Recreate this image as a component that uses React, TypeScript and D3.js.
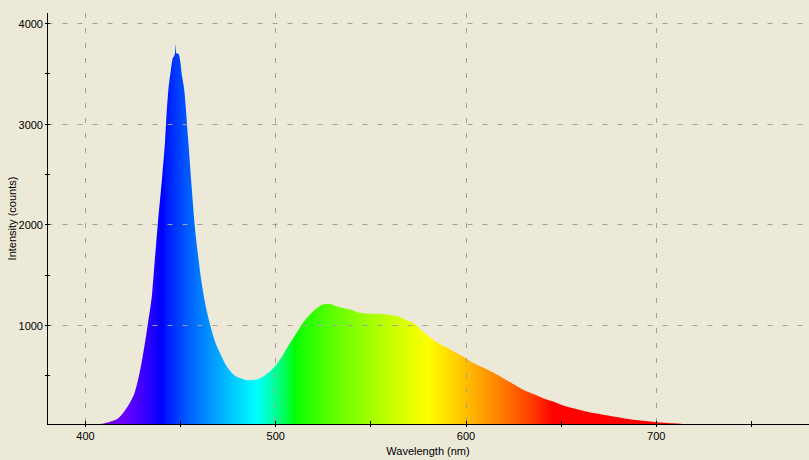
import React from "react";
import * as d3 from "d3";

const wavelengths = [380, 400, 403, 405, 410, 414, 417.2, 421.6, 424, 426, 429.9, 432.7, 435.1, 436.5, 437.9, 440.4, 441.8, 442.3, 443.5, 444.6, 445.6, 447.0, 447.3, 447.6, 448.7, 449.7, 450.5, 451.9, 454, 455.8, 457.5, 459.3, 461, 463.7, 465.4, 468, 470.7, 474.2, 477.7, 481.2, 485.5, 490, 493.4, 497, 500.5, 504, 507.5, 511, 514.5, 518, 521.5, 523.3, 525, 528.5, 530.2, 533.8, 539, 544.3, 549.5, 554.8, 560, 565.3, 568.8, 572.3, 575.8, 581, 586.3, 590.6, 593.3, 599.6, 603.8, 609, 614.3, 619.5, 624.8, 630, 635.3, 640.5, 645.8, 651, 656.3, 661.5, 666.8, 672, 677.3, 682.6, 687.9, 693.1, 700.2, 708, 716, 723, 730, 740, 755, 780];
const intensities = [0, 0, 3, 8, 23, 45, 73, 173, 250, 339, 671, 1004, 1336, 1668, 1984, 2500, 2831, 2998, 3330, 3497, 3629, 3700, 3789, 3700, 3696, 3629, 3500, 3330, 2830, 2363, 1964, 1665, 1420, 1137, 1007, 837, 718, 588, 508, 472, 449, 458, 488, 538, 608, 708, 819, 922, 1025, 1105, 1165, 1190, 1204, 1209, 1196, 1176, 1153, 1120, 1110, 1110, 1097, 1077, 1045, 1015, 960, 877, 808, 768, 738, 671, 622, 576, 526, 470, 412, 356, 312, 272, 239, 199, 172, 146, 123, 107, 90, 73, 57, 47, 33, 22, 13, 7, 3, 1, 0, 0];

const xMajorTicks = [400, 500, 600, 700];
const xMinorTicks = [450, 550, 650, 750];
const yMajorTicks = [1000, 2000, 3000, 4000];
const yMinorTicks = [500, 1500, 2500, 3500];
const xTitle = "Wavelength (nm)";
const yTitle = "Intensity (counts)";

const W = 809;
const H = 460;
const left = 47;
const top = 13;
const axisY = 424;

function wavelengthColor(w: number): string {
  let r = 0, g = 0, b = 0;
  if (w < 440) { r = -(w - 440) / 60; g = 0; b = 1; }
  else if (w < 490) { r = 0; g = (w - 440) / 50; b = 1; }
  else if (w < 510) { r = 0; g = 1; b = -(w - 510) / 20; }
  else if (w < 580) { r = (w - 510) / 70; g = 1; b = 0; }
  else if (w < 645) { r = 1; g = -(w - 645) / 65; b = 0; }
  else { r = 1; g = 0; b = 0; }
  let f = 1;
  if (w < 420) f = 0.3 + 0.7 * (w - 380) / 40;
  else if (w > 700) f = 0.3 + 0.7 * (780 - w) / 80;
  const c = (v: number) => Math.round(255 * Math.pow(Math.max(0, v * f), 0.8));
  return `rgb(${c(r)},${c(g)},${c(b)})`;
}

export default function App() {
  const x = d3.scaleLinear().domain([380, 780]).range([47.5, 808.5]);
  const y = d3.scaleLinear().domain([0, 4000]).range([425.5, 23]);
  const crisp = (v: number) => Math.round(v) + 0.5;
  const pts = wavelengths.map((w, i) => [w, intensities[i]] as [number, number]);
  const area = d3.area<[number, number]>()
    .x(d => x(d[0]))
    .y0(y(0))
    .y1(d => y(d[1]))
    .curve(d3.curveMonotoneX);
  const stops = d3.range(380, 781, 2);
  const font = "'Liberation Sans', Arial, sans-serif";
  const grid = "#a0a0a0";
  return (
    <svg width={W} height={H} style={{ position: "absolute", left: 0, top: 0 }}>
      <defs>
        <linearGradient id="spec" gradientUnits="userSpaceOnUse" x1={x(380)} x2={x(780)} y1={0} y2={0}>
          {stops.map(w => (
            <stop key={w} offset={(w - 380) / 400} stopColor={wavelengthColor(w)} />
          ))}
        </linearGradient>
        <clipPath id="plot">
          <rect x={left + 1} y={top} width={W - left} height={axisY - top} />
        </clipPath>
      </defs>
      <rect x={0} y={0} width={W} height={H} fill="#ECE9D8" />
      <path d={area(pts) || ""} fill="url(#spec)" clipPath="url(#plot)" />
      {yMajorTicks.map(t => (
        <line key={"gy" + t} x1={left + 0.5} x2={W} y1={crisp(y(t))} y2={crisp(y(t))} stroke={grid} strokeDasharray="5 10" />
      ))}
      {xMajorTicks.map(t => (
        <line key={"gx" + t} x1={crisp(x(t) - 0.5)} x2={crisp(x(t) - 0.5)} y1={top} y2={axisY} stroke={grid} strokeDasharray="5 10" />
      ))}
      <line x1={left + 0.5} x2={left + 0.5} y1={top} y2={axisY + 1} stroke="#000" />
      <line x1={left} x2={W} y1={axisY + 0.5} y2={axisY + 0.5} stroke="#000" />
      {[...yMajorTicks, ...yMinorTicks].map(t => (
        <line key={"ty" + t} x1={left - 2} x2={left + 3} y1={crisp(y(t))} y2={crisp(y(t))} stroke="#000" />
      ))}
      {[...xMajorTicks, ...xMinorTicks].map(t => (
        <line key={"tx" + t} x1={crisp(x(t) - 0.5)} x2={crisp(x(t) - 0.5)} y1={axisY - 3} y2={axisY + 3} stroke="#000" />
      ))}
      {yMajorTicks.map(t => (
        <text key={"ly" + t} x={43} y={crisp(y(t)) + 4} textAnchor="end" fontFamily={font} fontSize={11} fill="#000">{t}</text>
      ))}
      {xMajorTicks.map(t => (
        <text key={"lx" + t} x={x(t)} y={439.5} textAnchor="middle" fontFamily={font} fontSize={11} fill="#000">{t}</text>
      ))}
      <text x={(left + W) / 2} y={454.5} textAnchor="middle" fontFamily={font} fontSize={11} fill="#000">{xTitle}</text>
      <text transform={`translate(15.5, ${(top + axisY) / 2}) rotate(-90)`} textAnchor="middle" fontFamily={font} fontSize={11} fill="#000">{yTitle}</text>
    </svg>
  );
}
